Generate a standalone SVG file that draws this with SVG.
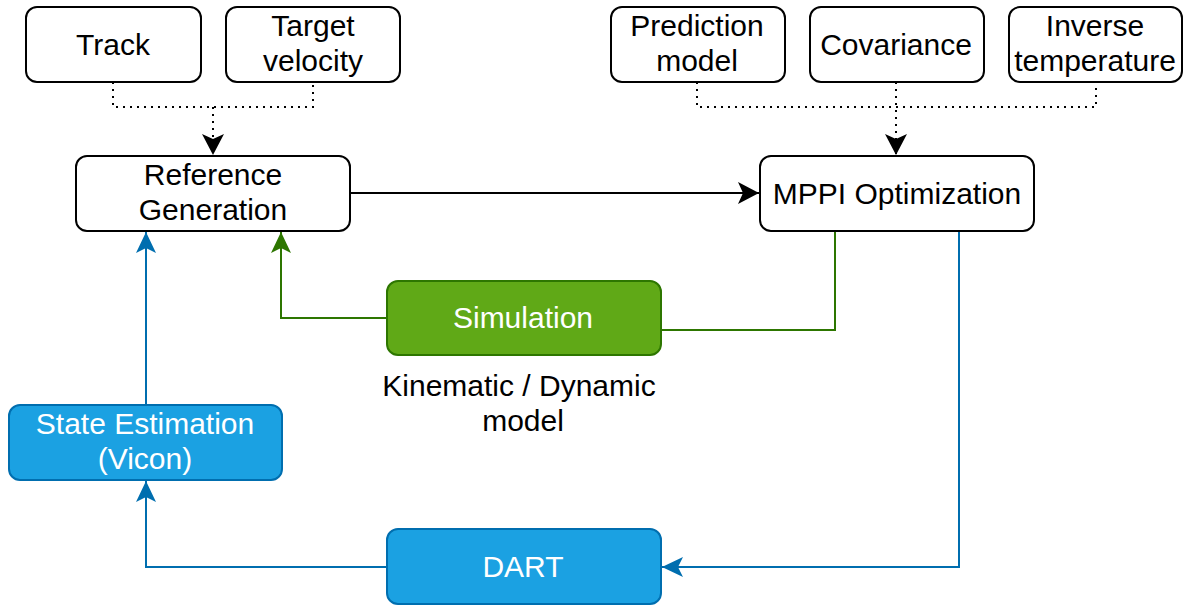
<svg xmlns="http://www.w3.org/2000/svg" width="1183" height="606" viewBox="0 0 1183 606">
  <style>
    .box { fill: #ffffff; stroke: #000000; stroke-width: 2; }
    .green { fill: #60a917; stroke: #2d7600; stroke-width: 2; }
    .blue { fill: #1ba1e2; stroke: #006eaf; stroke-width: 2; }
    text { font-family: "Liberation Sans", Arial, sans-serif; font-size: 30px; text-anchor: middle; fill: #000000; }
    .light { fill: #ffffff; }
    .dot { fill: none; stroke: #000000; stroke-width: 2; stroke-dasharray: 2 5; }
    .solid { fill: none; stroke: #000000; stroke-width: 2; }
    .gline { fill: none; stroke: #2d7600; stroke-width: 2; }
    .bline { fill: none; stroke: #006eaf; stroke-width: 2; }
  </style>
  <defs>
    <marker id="arrowBlack" markerUnits="userSpaceOnUse" markerWidth="23" markerHeight="22" viewBox="0 0 23 22" refX="22" refY="11" orient="auto">
      <path d="M1,0 L22,11 L1,22 L6,11 Z" fill="#000000"/>
    </marker>
    <marker id="arrowGreen" markerUnits="userSpaceOnUse" markerWidth="23" markerHeight="22" viewBox="0 0 23 22" refX="22" refY="11" orient="auto">
      <path d="M1,1 L22,11 L1,21 L6,11 Z" fill="#2d7600"/>
    </marker>
    <marker id="arrowBlue" markerUnits="userSpaceOnUse" markerWidth="23" markerHeight="22" viewBox="0 0 23 22" refX="22" refY="11" orient="auto">
      <path d="M1,1 L22,11 L1,21 L6,11 Z" fill="#006eaf"/>
    </marker>
  </defs>

  <!-- connectors -->
  <g id="connectors">
    <path class="dot" d="M113,82 V107 H313 V82"/>
    <path class="dot" d="M213,107 V155" marker-end="url(#arrowBlack)"/>
    <path class="dot" d="M697,82 V107 H1096 V82"/>
    <path class="dot" d="M896,82 V155" marker-end="url(#arrowBlack)"/>
    <path class="solid" d="M350,193 H759" marker-end="url(#arrowBlack)"/>
    <path class="gline" d="M835,231 V330 H661"/>
    <path class="gline" d="M387,318 H281 V232" marker-end="url(#arrowGreen)"/>
    <path class="bline" d="M959,231 V567 H662" marker-end="url(#arrowBlue)"/>
    <path class="bline" d="M387,567 H146 V481" marker-end="url(#arrowBlue)"/>
    <path class="bline" d="M146,404 V232" marker-end="url(#arrowBlue)"/>
  </g>

  <g id="track">
    <rect class="box" x="26" y="7" width="175" height="75" rx="11"/>
    <text x="113" y="55">Track</text>
  </g>
  <g id="target-velocity">
    <rect class="box" x="226" y="7" width="174" height="75" rx="11"/>
    <text x="313" y="36">Target</text>
    <text x="313" y="71">velocity</text>
  </g>
  <g id="prediction-model">
    <rect class="box" x="611" y="7" width="174" height="75" rx="11"/>
    <text x="697" y="36">Prediction</text>
    <text x="697" y="71">model</text>
  </g>
  <g id="covariance">
    <rect class="box" x="810" y="7" width="174" height="75" rx="11"/>
    <text x="896" y="55">Covariance</text>
  </g>
  <g id="inverse-temperature">
    <rect class="box" x="1009" y="7" width="173" height="75" rx="11"/>
    <text x="1095" y="36">Inverse</text>
    <text x="1095" y="71">temperature</text>
  </g>
  <g id="reference-generation">
    <rect class="box" x="76" y="156" width="274" height="75" rx="11"/>
    <text x="213" y="185">Reference</text>
    <text x="213" y="220">Generation</text>
  </g>
  <g id="mppi-optimization">
    <rect class="box" x="760" y="156" width="274" height="75" rx="11"/>
    <text x="897" y="204">MPPI Optimization</text>
  </g>
  <g id="simulation">
    <rect class="green" x="387" y="281" width="274" height="74" rx="11"/>
    <text class="light" x="523" y="328">Simulation</text>
  </g>
  <g id="simulation-label">
    <text x="519" y="396">Kinematic / Dynamic</text>
    <text x="523" y="431">model</text>
  </g>
  <g id="state-estimation">
    <rect class="blue" x="9" y="405" width="273" height="75" rx="11"/>
    <text class="light" x="145" y="434">State Estimation</text>
    <text class="light" x="145" y="469">(Vicon)</text>
  </g>
  <g id="dart">
    <rect class="blue" x="387" y="529" width="274" height="75" rx="11"/>
    <text class="light" x="523" y="577">DART</text>
  </g>
</svg>
